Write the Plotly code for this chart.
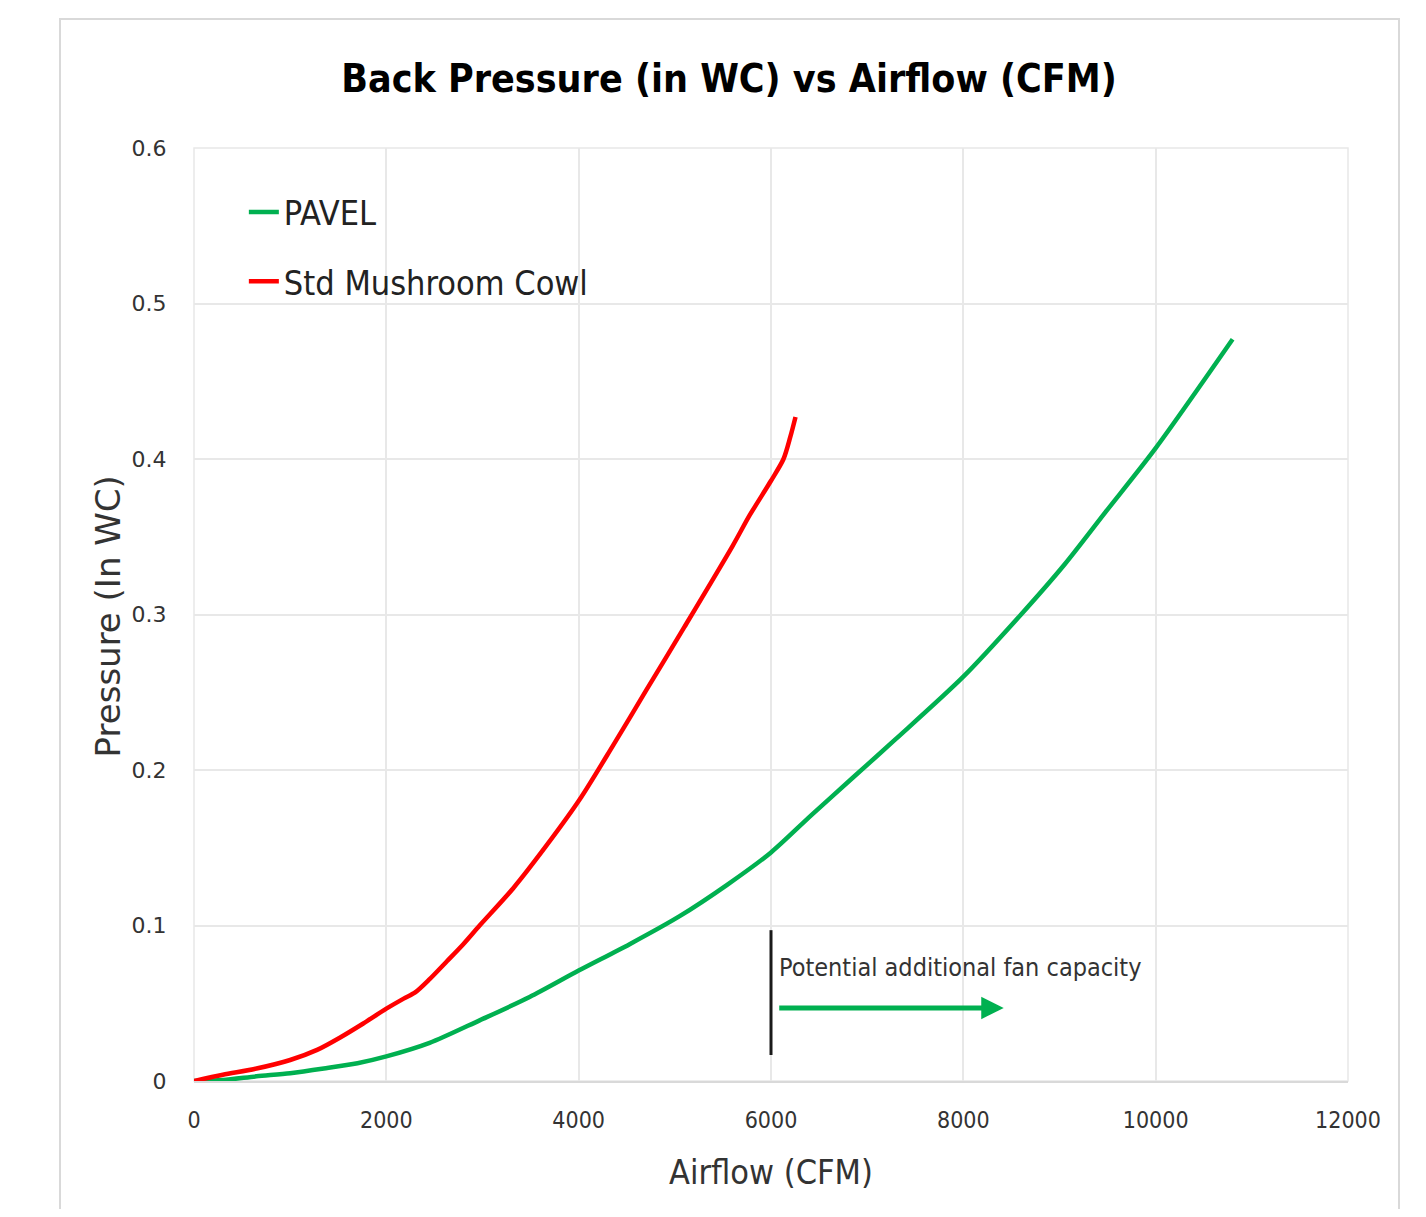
import plotly.graph_objects as go

# ---- data ----
pavel_cfm = [0, 300, 650, 1000, 1350, 1700, 2000, 2450, 2970, 3490, 4000, 4530, 5050,
             5540, 6000, 6420, 6850, 7290, 8000, 8600, 9050, 9480, 10000, 10800]
pavel_wc = [0, 0.0006, 0.003, 0.005, 0.008, 0.0114, 0.0158, 0.0245, 0.039, 0.054, 0.071,
            0.088, 0.106, 0.126, 0.147, 0.171, 0.195, 0.2195, 0.260, 0.300, 0.332, 0.366,
            0.407, 0.477]

cowl_cfm = [0, 300, 650, 1000, 1280, 1520, 1760, 2000, 2180, 2300, 2450, 2630, 2800, 2970,
            3320, 3660, 4010, 4360, 4700, 5100, 5600, 5780, 6000, 6130, 6200, 6255]
cowl_wc = [0, 0.004, 0.008, 0.0135, 0.020, 0.028, 0.037, 0.0465, 0.053, 0.057, 0.0655,
           0.077, 0.088, 0.100, 0.124, 0.151, 0.181, 0.216, 0.251, 0.292, 0.344, 0.364,
           0.386, 0.400, 0.414, 0.427]

x_ticks = [0, 2000, 4000, 6000, 8000, 10000, 12000]
x_tick_text = ["0", "2000", "4000", "6000", "8000", "10000", "12000"]
y_ticks = [0, 0.1, 0.2, 0.3, 0.4, 0.5, 0.6]
y_tick_text = ["0", "0.1", "0.2", "0.3", "0.4", "0.5", "0.6"]

marker_cfm = 6000
marker_wc = [0.0167, 0.097]
arrow_cfm = [6070, 8420]
arrow_wc = 0.047
note_text = "Potential additional fan capacity"

GREEN = "#00B050"
RED = "#FF0000"
GRID = "#E8E8E8"
NARROW = "DejaVu Sans Condensed, Liberation Sans Narrow, Arial Narrow, sans-serif"

fig = go.Figure()
fig.add_trace(go.Scatter(x=pavel_cfm, y=pavel_wc, mode="lines", name="PAVEL",
                         legendgroup="a",
                         line=dict(color=GREEN, width=4.5, shape="spline", smoothing=0.8)))
fig.add_trace(go.Scatter(x=cowl_cfm, y=cowl_wc, mode="lines", name="Std Mushroom Cowl",
                         legendgroup="b",
                         line=dict(color=RED, width=4.5, shape="spline", smoothing=0.8)))

# vertical black marker line
fig.add_trace(go.Scatter(x=[marker_cfm, marker_cfm], y=marker_wc, mode="lines",
                         showlegend=False, hoverinfo="skip",
                         line=dict(color="#1a1a1a", width=3)))

# green arrow
fig.add_annotation(x=arrow_cfm[1], y=arrow_wc, ax=arrow_cfm[0], ay=arrow_wc,
                   xref="x", yref="y", axref="x", ayref="y", text="",
                   showarrow=True, arrowhead=2, arrowsize=0.9, arrowwidth=5,
                   arrowcolor=GREEN)
fig.add_annotation(x=marker_cfm, y=0.0727, xref="x", yref="y", text=note_text,
                   showarrow=False, xanchor="left", yanchor="middle", xshift=6,
                   font=dict(family=NARROW, size=25, color="#333333"))

# axis titles
fig.add_annotation(x=0.5, y=-0.097, xref="paper", yref="paper", text="Airflow (CFM)",
                   showarrow=False, xanchor="center", yanchor="middle",
                   font=dict(family=NARROW, size=34, color="#333333"))
fig.add_annotation(x=-0.0745, y=0.498, xref="paper", yref="paper", text="Pressure (In WC)",
                   showarrow=False, xanchor="center", yanchor="middle", textangle=-90,
                   font=dict(family="DejaVu Sans", size=34, color="#333333"))

# plot-area frame in grid colour (top / right edge gridlines)
fig.add_shape(type="rect", xref="paper", yref="paper", x0=0, x1=1, y0=0, y1=1,
              line=dict(color=GRID, width=1.5), fillcolor="rgba(0,0,0,0)", layer="below")

# outer chart border
fig.add_shape(type="rect", xref="paper", yref="paper",
              x0=-0.1161, x1=1.0442, y0=-0.2, y1=1.1383,
              line=dict(color="#D9D9D9", width=2), fillcolor="rgba(0,0,0,0)", layer="below")

fig.update_layout(
    width=1410, height=1201,
    margin=dict(l=186, r=70, t=140, b=128),
    paper_bgcolor="white", plot_bgcolor="white",
    title=dict(text="<b>Back Pressure (in WC) vs Airflow (CFM)</b>",
               x=721 / 1410, xanchor="center", y=1 - 70 / 1201, yanchor="middle",
               font=dict(family=NARROW, size=39, color="#000000")),
    legend=dict(x=0.0432, y=0.962, xanchor="left", yanchor="top",
                bgcolor="rgba(0,0,0,0)", tracegroupgap=22,
                font=dict(family=NARROW, size=34, color="#222222")),
    showlegend=True,
)
fig.update_xaxes(range=[0, 12000], tickvals=x_ticks, ticktext=x_tick_text,
                 showgrid=True, gridcolor=GRID, gridwidth=1.5,
                 showline=True, linecolor="#D9D9D9", linewidth=2,
                 zeroline=False, ticks="outside", ticklen=17,
                 tickcolor="rgba(0,0,0,0)",
                 tickfont=dict(family=NARROW, size=23, color="#333333"))
fig.update_yaxes(range=[0, 0.6], tickvals=y_ticks, ticktext=y_tick_text,
                 showgrid=True, gridcolor=GRID, gridwidth=1.5,
                 showline=False, zeroline=False, ticks="outside", ticklen=22,
                 tickcolor="rgba(0,0,0,0)",
                 tickfont=dict(family="DejaVu Sans", size=22, color="#333333"))

fig.write_html("out.html")
